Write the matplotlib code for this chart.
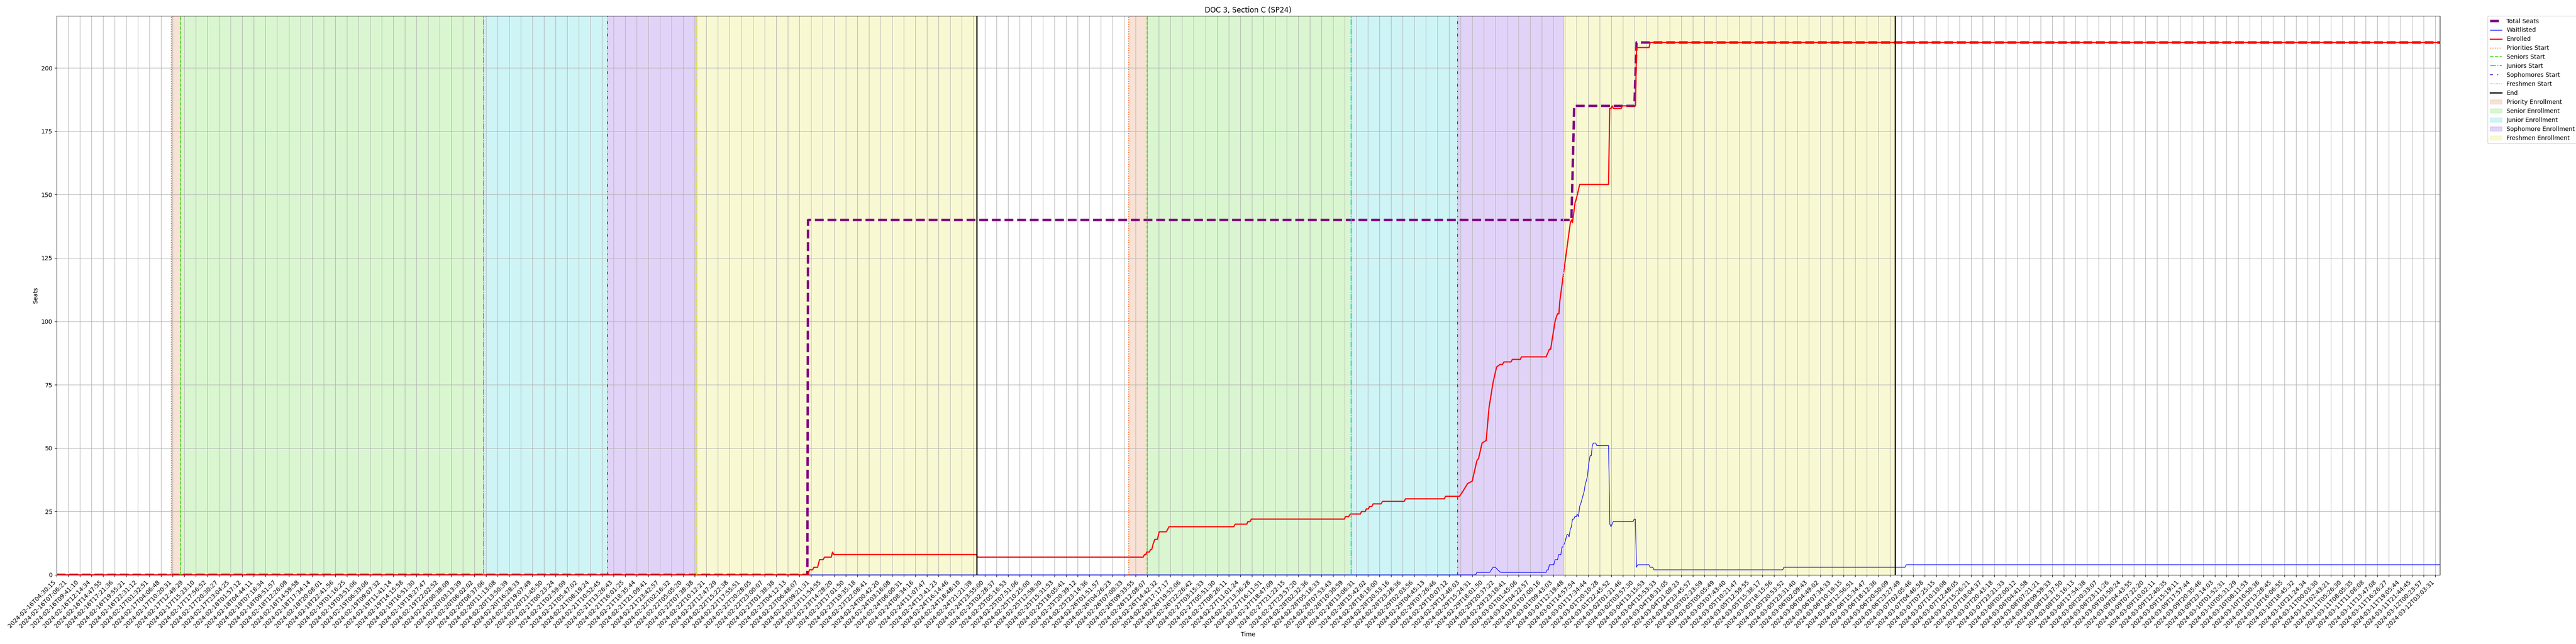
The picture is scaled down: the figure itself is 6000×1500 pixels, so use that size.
import numpy as np
import matplotlib
matplotlib.use('Agg')
import matplotlib.pyplot as plt

# x values are in tick positions (one tick label per position)
tick_labels = [
    '2024-02-16T04:30:15', '2024-02-16T07:06:21', '2024-02-16T09:41:10', '2024-02-16T12:14:34', '2024-02-16T14:47:55',
    '2024-02-16T17:21:36', '2024-02-16T19:55:21', '2024-02-16T22:31:12', '2024-02-17T01:32:51', '2024-02-17T04:06:48',
    '2024-02-17T10:20:31', '2024-02-17T12:49:29', '2024-02-17T15:23:10', '2024-02-17T17:56:52', '2024-02-17T20:30:27',
    '2024-02-17T23:04:25', '2024-02-18T01:57:12', '2024-02-18T04:44:11', '2024-02-18T07:18:34', '2024-02-18T09:51:57',
    '2024-02-18T12:26:09', '2024-02-18T14:59:58', '2024-02-18T17:34:14', '2024-02-18T20:08:01', '2024-02-18T22:41:56',
    '2024-02-19T01:16:25', '2024-02-19T03:51:06', '2024-02-19T06:33:06', '2024-02-19T09:07:32', '2024-02-19T11:41:14',
    '2024-02-19T14:15:58', '2024-02-19T16:51:30', '2024-02-19T19:27:47', '2024-02-19T22:02:52', '2024-02-20T00:38:09',
    '2024-02-20T03:13:39', '2024-02-20T06:02:02', '2024-02-20T08:37:06', '2024-02-20T11:13:08', '2024-02-20T13:50:39',
    '2024-02-20T16:28:33', '2024-02-20T19:07:49', '2024-02-20T21:45:50', '2024-02-21T00:23:24', '2024-02-21T02:59:09',
    '2024-02-21T05:47:02', '2024-02-21T08:19:24', '2024-02-21T10:52:45', '2024-02-21T13:26:43', '2024-02-21T16:01:25',
    '2024-02-21T18:35:44', '2024-02-21T21:09:41', '2024-02-21T23:42:57', '2024-02-22T02:16:32', '2024-02-22T05:05:20',
    '2024-02-22T07:38:38', '2024-02-22T10:12:21', '2024-02-22T12:47:29', '2024-02-22T15:22:38', '2024-02-22T17:55:51',
    '2024-02-22T20:28:05', '2024-02-22T23:00:07', '2024-02-23T01:38:38', '2024-02-23T04:12:13', '2024-02-23T06:48:07',
    '2024-02-23T09:21:31', '2024-02-23T11:54:55', '2024-02-23T14:28:20', '2024-02-23T17:01:50', '2024-02-23T19:35:18',
    '2024-02-23T22:08:41', '2024-02-24T00:42:20', '2024-02-24T03:16:08', '2024-02-24T06:00:31', '2024-02-24T08:34:16',
    '2024-02-24T11:07:47', '2024-02-24T13:41:23', '2024-02-24T16:14:46', '2024-02-24T18:48:10', '2024-02-24T21:21:39',
    '2024-02-24T23:55:00', '2024-02-25T02:28:37', '2024-02-25T05:16:53', '2024-02-25T07:51:06', '2024-02-25T10:25:00',
    '2024-02-25T12:58:30', '2024-02-25T15:31:53', '2024-02-25T18:05:41', '2024-02-25T20:39:12', '2024-02-25T23:14:36',
    '2024-02-26T01:51:57', '2024-02-26T04:26:23', '2024-02-26T07:00:33', '2024-02-26T09:33:55', '2024-02-26T12:08:07',
    '2024-02-26T14:42:32', '2024-02-26T17:17:17', '2024-02-26T19:52:06', '2024-02-26T22:26:42', '2024-02-27T03:15:33',
    '2024-02-27T05:51:30', '2024-02-27T08:26:11', '2024-02-27T11:01:24', '2024-02-27T13:36:28', '2024-02-27T16:11:51',
    '2024-02-27T18:47:09', '2024-02-27T21:22:15', '2024-02-27T23:57:20', '2024-02-28T02:32:36', '2024-02-28T05:18:33',
    '2024-02-28T07:53:43', '2024-02-28T10:30:59', '2024-02-28T13:06:31', '2024-02-28T15:42:02', '2024-02-28T18:18:00',
    '2024-02-28T20:53:16', '2024-02-28T23:28:36', '2024-02-29T02:03:56', '2024-02-29T04:45:13', '2024-02-29T07:26:46',
    '2024-02-29T10:07:12', '2024-02-29T12:46:03', '2024-02-29T15:24:31', '2024-02-29T18:01:50', '2024-02-29T20:37:22',
    '2024-02-29T23:10:41', '2024-03-01T01:45:06', '2024-03-01T04:22:57', '2024-03-01T07:00:16', '2024-03-01T09:43:03',
    '2024-03-01T12:19:48', '2024-03-01T14:57:54', '2024-03-01T17:34:44', '2024-03-01T20:10:28', '2024-03-01T22:45:52',
    '2024-03-02T01:21:46', '2024-03-02T03:57:30', '2024-03-04T13:15:53', '2024-03-04T15:53:33', '2024-03-04T18:31:05',
    '2024-03-04T21:08:23', '2024-03-04T23:45:57', '2024-03-05T02:23:59', '2024-03-05T05:05:49', '2024-03-05T07:43:40',
    '2024-03-05T10:21:47', '2024-03-05T12:59:55', '2024-03-05T15:38:17', '2024-03-05T18:15:56', '2024-03-05T20:53:52',
    '2024-03-05T23:31:40', '2024-03-06T02:09:43', '2024-03-06T04:49:02', '2024-03-06T07:34:33', '2024-03-06T10:19:15',
    '2024-03-06T12:56:51', '2024-03-06T15:34:47', '2024-03-06T18:12:36', '2024-03-06T20:50:09', '2024-03-06T23:27:49',
    '2024-03-07T02:05:46', '2024-03-07T04:46:58', '2024-03-07T07:25:15', '2024-03-07T10:10:08', '2024-03-07T12:48:05',
    '2024-03-07T15:26:21', '2024-03-07T18:04:37', '2024-03-07T20:43:18', '2024-03-07T23:21:33', '2024-03-08T02:00:12',
    '2024-03-08T04:41:58', '2024-03-08T07:21:21', '2024-03-08T09:59:33', '2024-03-08T12:37:50', '2024-03-08T15:16:13',
    '2024-03-08T17:54:38', '2024-03-08T20:33:07', '2024-03-08T23:11:26', '2024-03-09T01:50:24', '2024-03-09T04:43:55',
    '2024-03-09T07:22:20', '2024-03-09T10:02:11', '2024-03-09T12:40:35', '2024-03-09T15:19:11', '2024-03-09T17:57:44',
    '2024-03-09T20:35:46', '2024-03-09T23:14:03', '2024-03-10T01:52:31', '2024-03-10T05:31:29', '2024-03-10T08:11:53',
    '2024-03-10T10:50:36', '2024-03-10T13:28:45', '2024-03-10T16:06:55', '2024-03-10T18:45:32', '2024-03-10T21:24:34',
    '2024-03-11T00:03:30', '2024-03-11T02:43:21', '2024-03-11T05:26:30', '2024-03-11T08:05:35', '2024-03-11T11:08:08',
    '2024-03-11T13:47:08', '2024-03-11T16:26:27', '2024-03-11T19:05:44', '2024-03-11T21:44:45', '2024-03-12T00:23:57',
    '2024-03-12T03:03:31',
]
x_end = 205.4

seats_x = [0, 64.7, 64.76, 130.55, 130.79, 135.98, 136.16, x_end]
seats_y = [0, 0, 140, 140, 185, 185, 210, 210]

enrolled_x = [0, 64.76, 64.88, 65.15, 65.26, 65.58, 65.75, 66.06, 66.18, 66.76, 66.87, 66.98, 79.27, 79.37,
              93.64, 93.75, 93.87, 93.94, 94.17, 94.28, 94.38, 94.49, 94.64, 94.87, 95.02, 95.64, 95.87,
              101.45, 101.57, 102.57, 102.66, 102.85, 102.96, 110.97, 111.08, 111.35, 111.50, 112.36, 112.46,
              112.78, 112.87, 113.04, 113.16, 113.35, 113.46, 114.14, 114.27, 116.14, 116.25,
              119.6, 119.7, 120.9, 121.2, 121.6, 122.0, 122.4, 122.55, 122.85, 123.2, 123.45, 123.8, 124.1, 124.4,
              124.60, 124.73, 125.34, 125.46, 126.14, 126.25, 128.37, 128.65, 128.76, 128.86, 129.14, 129.27,
              129.36, 129.47, 129.55, 130.40, 130.46, 130.56, 130.64, 130.87, 130.95, 131.01, 131.26, 133.75,
              133.85, 133.97, 134.06, 134.16, 134.84, 134.93, 136.07, 136.16, 136.25, 137.24, 137.34, x_end]
enrolled_y = [0, 0, 2, 2, 3, 3, 6, 6, 7, 7, 9, 8, 8, 7,
              7, 8, 8, 9, 9, 10, 10, 12, 14, 14, 17, 17, 19,
              19, 20, 20, 21, 21, 22, 22, 23, 23, 24, 24, 25,
              25, 26, 26, 27, 27, 28, 28, 29, 29, 30,
              30, 31, 31, 33, 36, 37, 45, 46, 52, 53, 66, 76, 82, 83,
              83, 84, 84, 85, 85, 86, 86, 89, 89, 92, 100, 102,
              103, 103, 108, 137, 139, 140, 139, 147, 148, 149, 154, 154,
              184, 184, 185, 184, 184, 185, 185, 208, 208, 208, 210, 210]

waitlisted_x = [0, 122.3, 122.4, 123.5, 123.8, 124.0, 124.2, 124.45, 128.37, 128.46, 128.56, 128.65, 129.03, 129.14,
                129.36, 129.44, 129.64, 129.74, 129.82, 130.0, 130.18, 130.25, 130.35, 130.45, 130.55, 130.64,
                130.76, 130.84, 130.97, 131.04, 131.16, 131.26, 131.35, 131.59, 131.65, 131.75, 131.83, 131.93,
                132.05, 132.16, 132.26, 132.35, 132.44, 132.64, 132.74, 133.75, 133.86, 133.96, 134.15, 135.86,
                135.96, 136.06, 136.16, 136.26, 137.23, 137.33, 137.56, 137.66, 148.76, 148.86, 159.3, 159.4, x_end]
waitlisted_y = [0, 0, 1, 1, 3, 3, 2, 1, 1, 2, 2, 4, 4, 6,
                6, 8, 8, 11, 11, 13, 16, 16, 15, 18, 19, 22,
                22, 23, 23, 24, 23, 27, 28, 32, 33, 36, 37, 39,
                44, 47, 47, 51, 52, 52, 51, 51, 20, 19, 21, 21,
                22, 22, 3, 4, 4, 3, 3, 2, 2, 3, 3, 4, 4]

period_names = ['Priorities Start', 'Seniors Start', 'Juniors Start', 'Sophomores Start', 'Freshmen Start']
span_names = ['Priority Enrollment', 'Senior Enrollment', 'Junior Enrollment', 'Sophomore Enrollment', 'Freshmen Enrollment']
cycle1_starts = [9.88, 10.65, 36.77, 47.47, 55.16]
cycle1_end = 79.28
cycle2_starts = [92.38, 93.97, 111.56, 120.75, 129.86]
cycle2_end = 158.44

line_colors = ['#f0702e', '#44d414', '#0cc8d4', '#6a24d8', '#e0e024']
span_colors = ['#e06a30', '#44d414', '#0cc8d4', '#6a24d8', '#e0e024']
line_styles = [':', '--', '-.', (0, (3, 5, 1, 5)), (0, (3, 1, 1, 1))]

fig, ax = plt.subplots(figsize=(60, 15), dpi=100)
fig.subplots_adjust(left=132/6000, right=5683/6000, top=1-37/1500, bottom=1-1339/1500)

ax.plot(seats_x, seats_y, color='purple', linestyle='--', linewidth=4, label='Total Seats')
ax.plot(waitlisted_x, waitlisted_y, color='blue', linewidth=1, label='Waitlisted')
ax.plot(enrolled_x, enrolled_y, color='red', linewidth=2, label='Enrolled')

for starts, end, first in [(cycle1_starts, cycle1_end, True), (cycle2_starts, cycle2_end, False)]:
    stops = starts[1:] + [end]
    for i in range(5):
        ax.axvline(starts[i], color=line_colors[i], linestyle=line_styles[i], label=period_names[i] if first else None)
    ax.axvline(end, color='black', linewidth=2, label='End' if first else None)
    for i in range(5):
        ax.axvspan(starts[i], stops[i], color=span_colors[i], alpha=0.2, label=span_names[i] if first else None)

ax.set_xticks(np.arange(len(tick_labels)))
ax.set_xticklabels(tick_labels, rotation=45, ha='right')
ax.set_yticks(np.arange(0, 201, 25))
ax.set_xlim(0, x_end)
ax.set_ylim(0, 220.5)
ax.grid(True)
ax.set_title('DOC 3, Section C (SP24)')
ax.set_xlabel('Time')
ax.set_ylabel('Seats')
ax.legend(loc='upper left', bbox_to_anchor=(1.02, 1), borderaxespad=0)

plt.savefig('out.png', dpi=100)
